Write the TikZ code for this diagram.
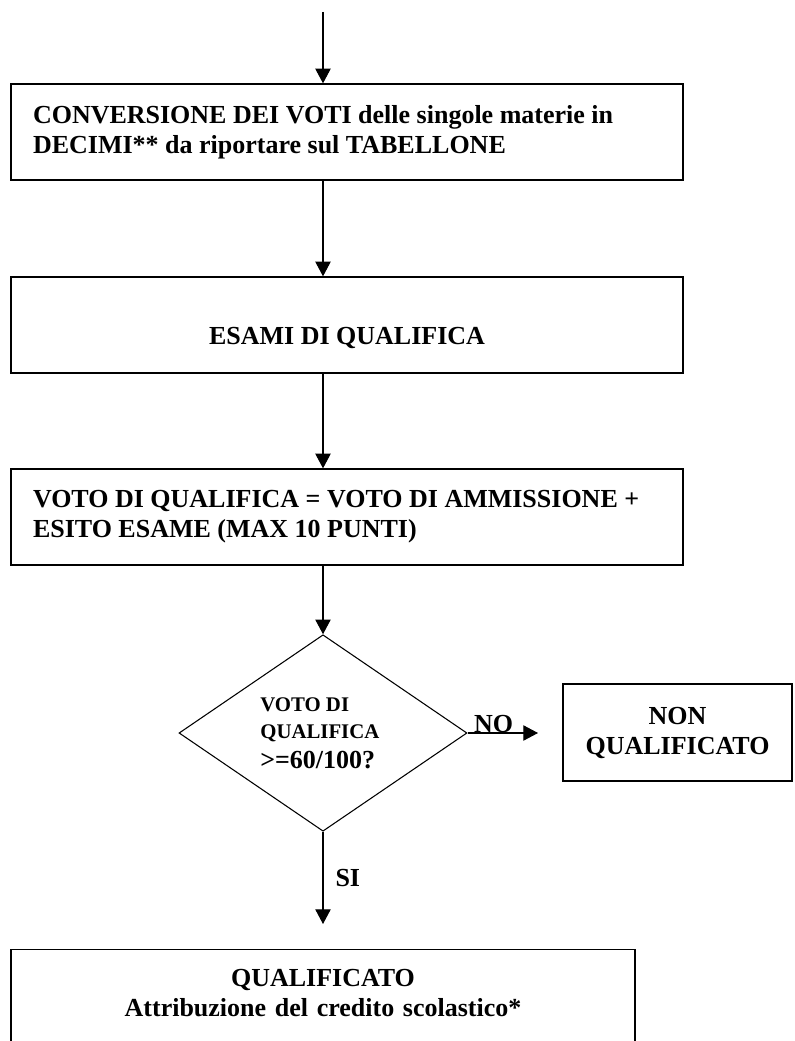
\documentclass[tikz,border=0pt]{standalone}
\usepackage{fontspec}
\setmainfont{Liberation Serif}
\usetikzlibrary{shapes.geometric,arrows.meta}
\begin{document}
\begin{tikzpicture}[
    x=0.75pt, y=-0.75pt,
    every node/.style={font=\bfseries\fontsize{19.5}{22.5}\selectfont, inner sep=0pt},
    box/.style={draw, line width=1pt, rectangle, minimum width=504pt, minimum height=72pt},
    leftbox/.style={box, inner xsep=16.5pt, text width=471pt, align=flush left},
    decision/.style={draw, line width=0.8pt, diamond, minimum width=216pt, minimum height=142.5pt},
    arrow/.style={line width=0.8pt, -{Triangle[length=11pt,width=11.5pt]}}
]
\useasboundingbox (0,0) rectangle (794,1041);
\coordinate (start) at (323,12);
\node (conv) [leftbox] at (347,132) {CONVERSIONE DEI VOTI delle singole materie in\\DECIMI** da riportare sul TABELLONE};
\node (esami) [box, text height=31.5pt, text depth=3pt] at (347,325) {ESAMI DI QUALIFICA};
\node (voto) [leftbox] at (347,517) {VOTO DI QUALIFICA = VOTO DI AMMISSIONE +\\ESITO ESAME (MAX 10 PUNTI)};
\node (check) [decision, text width=94pt, align=flush left] at (323,733)
    {\fontsize{15.6}{20.25}\selectfont VOTO DI\\QUALIFICA\\\fontsize{19.5}{20.25}\selectfont >=60/100?};
\node (nonq) [box, minimum width=171.75pt, minimum height=72.75pt, align=center] at (677.5,732.5) {NON\\QUALIFICATO};
\coordinate (notip) at (538,733);
\coordinate (sitip) at (323,924);
\node (qual) [draw, line width=1pt, anchor=north, minimum width=468pt, text width=468pt, align=center,
    inner ysep=4pt, text height=23.75pt, text depth=100pt] at (323,949)
    {QUALIFICATO\\Attribuzione del credito scolastico*};

\draw[arrow] (start) -- (start |- conv.north);
\draw[arrow] (conv.south -| start) -- (esami.north -| start);
\draw[arrow] (esami.south -| start) -- (voto.north -| start);
\draw[arrow] (voto.south -| start) -- (check.north);
\draw[arrow] (check.east) -- node[above, pos=0.37] {NO} (notip);
\draw[arrow] (check.south) -- node[right=9pt, pos=0.5] {SI} (sitip);
\end{tikzpicture}
\end{document}
